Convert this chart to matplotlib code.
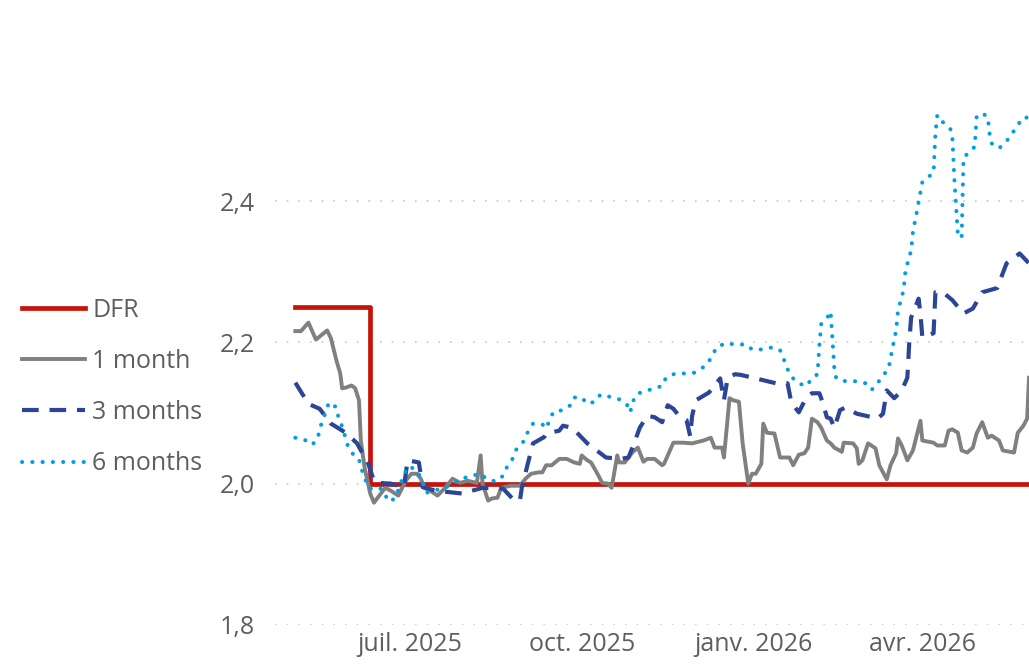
import pandas as pd
import matplotlib.pyplot as plt
import matplotlib.dates as mdates

# --------------------------
# 1. DATA
# --------------------------
dfr_dates = ["2025-05-01", "2025-06-10", "2026-05-28"]
dfr_vals = [2.25, 2.00, 2.00]

m1_dates = [
    "2025-05-01", "2025-05-04", "2025-05-08", "2025-05-12", "2025-05-18", "2025-05-20",
    "2025-05-23", "2025-05-25", "2025-05-26", "2025-05-28", "2025-05-31", "2025-06-02",
    "2025-06-04", "2025-06-05", "2025-06-07", "2025-06-10", "2025-06-12", "2025-06-14",
    "2025-06-18", "2025-06-21", "2025-06-25", "2025-06-29", "2025-07-02", "2025-07-05",
    "2025-07-07", "2025-07-09", "2025-07-12", "2025-07-16", "2025-07-20", "2025-07-24",
    "2025-07-28", "2025-08-01", "2025-08-06", "2025-08-08", "2025-08-09", "2025-08-12",
    "2025-08-14", "2025-08-17", "2025-08-19", "2025-08-24", "2025-08-29", "2025-09-01",
    "2025-09-04", "2025-09-08", "2025-09-10", "2025-09-12", "2025-09-15", "2025-09-19",
    "2025-09-23", "2025-09-27", "2025-09-30", "2025-10-01", "2025-10-04", "2025-10-06",
    "2025-10-09", "2025-10-12", "2025-10-15", "2025-10-17", "2025-10-20", "2025-10-21",
    "2025-10-24", "2025-10-28", "2025-10-31", "2025-11-03", "2025-11-05", "2025-11-09",
    "2025-11-13", "2025-11-14", "2025-11-19", "2025-11-24", "2025-11-29", "2025-12-05",
    "2025-12-09", "2025-12-11", "2025-12-15", "2025-12-16", "2025-12-19", "2025-12-21",
    "2025-12-24", "2025-12-26", "2025-12-29", "2025-12-31", "2026-01-02", "2026-01-05",
    "2026-01-06", "2026-01-08", "2026-01-12", "2026-01-15", "2026-01-20", "2026-01-22",
    "2026-01-25", "2026-01-28", "2026-01-30", "2026-02-01", "2026-02-04", "2026-02-06",
    "2026-02-09", "2026-02-11", "2026-02-13", "2026-02-17", "2026-02-18", "2026-02-23",
    "2026-02-25", "2026-02-26", "2026-02-28", "2026-03-03", "2026-03-07", "2026-03-09",
    "2026-03-13", "2026-03-15", "2026-03-18", "2026-03-19", "2026-03-21", "2026-03-24",
    "2026-03-27", "2026-03-31", "2026-04-01", "2026-04-07", "2026-04-09", "2026-04-13",
    "2026-04-15", "2026-04-17", "2026-04-20", "2026-04-22", "2026-04-25", "2026-04-28",
    "2026-04-30", "2026-05-03", "2026-05-06", "2026-05-08", "2026-05-12", "2026-05-14",
    "2026-05-20", "2026-05-22", "2026-05-25", "2026-05-27", "2026-05-28",
]
m1_vals = [
    2.216, 2.216, 2.228, 2.204, 2.217, 2.206,
    2.174, 2.156, 2.135, 2.136, 2.139, 2.135,
    2.118, 2.061, 2.023, 1.986, 1.973, 1.980,
    1.994, 1.990, 1.983, 2.004, 2.014, 2.014,
    2.007, 1.994, 1.990, 1.983, 1.994, 2.007,
    2.001, 2.004, 2.001, 2.040, 2.000, 1.976,
    1.979, 1.980, 1.994, 1.997, 1.997, 2.007,
    2.014, 2.016, 2.016, 2.026, 2.026, 2.035,
    2.035, 2.030, 2.028, 2.040, 2.033, 2.030,
    2.016, 2.001, 2.000, 1.994, 2.040, 2.030,
    2.030, 2.044, 2.051, 2.031, 2.035, 2.035,
    2.026, 2.028, 2.058, 2.058, 2.057, 2.061,
    2.065, 2.051, 2.051, 2.037, 2.121, 2.118,
    2.116, 2.057, 2.000, 2.014, 2.014, 2.028,
    2.085, 2.072, 2.071, 2.037, 2.037, 2.026,
    2.041, 2.043, 2.051, 2.092, 2.087, 2.079,
    2.061, 2.057, 2.051, 2.045, 2.058, 2.057,
    2.050, 2.028, 2.033, 2.057, 2.050, 2.026,
    2.006, 2.026, 2.043, 2.064, 2.054, 2.033,
    2.047, 2.089, 2.061, 2.058, 2.054, 2.054,
    2.075, 2.077, 2.072, 2.047, 2.044, 2.051,
    2.071, 2.087, 2.065, 2.068, 2.061, 2.047,
    2.044, 2.072, 2.082, 2.092, 2.150,
]

m3_dates = [
    "2025-05-01", "2025-05-08", "2025-05-14", "2025-05-20", "2025-05-28", "2025-06-03",
    "2025-06-09", "2025-06-12", "2025-06-14", "2025-06-21", "2025-06-28", "2025-06-30",
    "2025-07-06", "2025-07-08", "2025-07-15", "2025-07-22", "2025-07-29", "2025-08-09",
    "2025-08-20", "2025-08-26", "2025-08-29", "2025-08-30", "2025-09-02", "2025-09-05",
    "2025-09-11", "2025-09-12", "2025-09-19", "2025-09-21", "2025-09-26", "2025-10-04",
    "2025-10-11", "2025-10-14", "2025-10-22", "2025-10-26", "2025-10-29", "2025-11-01",
    "2025-11-05", "2025-11-09", "2025-11-13", "2025-11-14", "2025-11-16", "2025-11-19",
    "2025-11-22", "2025-11-26", "2025-11-28", "2025-11-29", "2025-12-01", "2025-12-08",
    "2025-12-14", "2025-12-16", "2025-12-18", "2025-12-22", "2025-12-25", "2026-01-02",
    "2026-01-13", "2026-01-19", "2026-01-21", "2026-01-25", "2026-01-29", "2026-02-01",
    "2026-02-05", "2026-02-07", "2026-02-09", "2026-02-11", "2026-02-13", "2026-02-16",
    "2026-02-19", "2026-02-25", "2026-03-02", "2026-03-08", "2026-03-11", "2026-03-13",
    "2026-03-17", "2026-03-21", "2026-03-24", "2026-03-25", "2026-03-26", "2026-03-30",
    "2026-03-31", "2026-04-01", "2026-04-07", "2026-04-08", "2026-04-12", "2026-04-17",
    "2026-04-23", "2026-04-28", "2026-05-03", "2026-05-11", "2026-05-16", "2026-05-23",
    "2026-05-28",
]
m3_vals = [
    2.143, 2.113, 2.106, 2.085, 2.072, 2.057,
    2.028, 2.004, 2.001, 2.000, 1.995, 2.033,
    2.030, 1.995, 1.990, 1.988, 1.986, 1.994,
    1.993, 1.976, 1.976, 1.994, 2.026, 2.057,
    2.066, 2.071, 2.075, 2.082, 2.079, 2.057,
    2.043, 2.037, 2.035, 2.037, 2.057, 2.079,
    2.096, 2.094, 2.087, 2.096, 2.111, 2.106,
    2.096, 2.090, 2.067, 2.096, 2.118, 2.129,
    2.149, 2.118, 2.150, 2.155, 2.154, 2.149,
    2.142, 2.142, 2.115, 2.101, 2.122, 2.128,
    2.128, 2.113, 2.094, 2.092, 2.079, 2.104,
    2.108, 2.099, 2.096, 2.092, 2.099, 2.132,
    2.121, 2.132, 2.150, 2.199, 2.235, 2.262,
    2.241, 2.207, 2.213, 2.271, 2.271, 2.260,
    2.241, 2.248, 2.271, 2.277, 2.312, 2.326,
    2.312,
]

m6_dates = [
    "2025-05-01", "2025-05-06", "2025-05-10", "2025-05-13", "2025-05-14", "2025-05-16",
    "2025-05-19", "2025-05-23", "2025-05-24", "2025-05-26", "2025-05-29", "2025-06-01",
    "2025-06-04", "2025-06-05", "2025-06-07", "2025-06-09", "2025-06-13", "2025-06-16",
    "2025-06-18", "2025-06-21", "2025-06-24", "2025-06-26", "2025-06-28", "2025-06-30",
    "2025-07-04", "2025-07-07", "2025-07-10", "2025-07-14", "2025-07-20", "2025-07-25",
    "2025-07-29", "2025-08-03", "2025-08-08", "2025-08-11", "2025-08-16", "2025-08-20",
    "2025-08-22", "2025-08-25", "2025-08-27", "2025-08-31", "2025-09-02", "2025-09-05",
    "2025-09-10", "2025-09-12", "2025-09-14", "2025-09-16", "2025-09-21", "2025-09-25",
    "2025-09-27", "2025-10-01", "2025-10-04", "2025-10-08", "2025-10-11", "2025-10-16",
    "2025-10-20", "2025-10-25", "2025-10-27", "2025-10-28", "2025-10-31", "2025-11-04",
    "2025-11-08", "2025-11-13", "2025-11-15", "2025-11-20", "2025-11-25", "2025-11-30",
    "2025-12-04", "2025-12-07", "2025-12-10", "2025-12-12", "2025-12-17", "2025-12-22",
    "2025-12-28", "2025-12-31", "2026-01-05", "2026-01-11", "2026-01-15", "2026-01-17",
    "2026-01-19", "2026-01-22", "2026-01-25", "2026-01-29", "2026-02-01", "2026-02-04",
    "2026-02-05", "2026-02-06", "2026-02-09", "2026-02-11", "2026-02-12", "2026-02-13",
    "2026-02-14", "2026-02-19", "2026-02-24", "2026-03-02", "2026-03-05", "2026-03-08",
    "2026-03-11", "2026-03-14", "2026-03-16", "2026-03-18", "2026-03-19", "2026-03-22",
    "2026-03-23", "2026-03-26", "2026-03-27", "2026-03-29", "2026-03-31", "2026-04-01",
    "2026-04-04", "2026-04-07", "2026-04-08", "2026-04-09", "2026-04-12", "2026-04-16",
    "2026-04-17", "2026-04-18", "2026-04-20", "2026-04-22", "2026-04-23", "2026-04-26",
    "2026-04-29", "2026-04-30", "2026-05-03", "2026-05-06", "2026-05-07", "2026-05-08",
    "2026-05-12", "2026-05-16", "2026-05-19", "2026-05-22", "2026-05-25", "2026-05-28",
]
m6_vals = [
    2.065, 2.062, 2.055, 2.064, 2.078, 2.092,
    2.115, 2.108, 2.094, 2.081, 2.054, 2.041,
    2.035, 2.023, 2.009, 1.994, 1.991, 1.993,
    1.983, 1.974, 1.983, 1.999, 2.011, 2.024,
    2.021, 2.009, 1.987, 1.990, 1.994, 2.001,
    2.007, 2.011, 2.014, 2.007, 2.003, 2.011,
    2.023, 2.035, 2.048, 2.060, 2.072, 2.085,
    2.084, 2.078, 2.091, 2.102, 2.104, 2.111,
    2.122, 2.122, 2.113, 2.116, 2.126, 2.123,
    2.121, 2.113, 2.101, 2.115, 2.128, 2.130,
    2.135, 2.138, 2.150, 2.156, 2.156, 2.157,
    2.163, 2.169, 2.182, 2.193, 2.199, 2.197,
    2.197, 2.190, 2.190, 2.193, 2.189, 2.176,
    2.162, 2.149, 2.142, 2.138, 2.149, 2.155,
    2.196, 2.226, 2.234, 2.244, 2.203, 2.163,
    2.149, 2.145, 2.145, 2.142, 2.133, 2.142,
    2.153, 2.163, 2.191, 2.217, 2.245, 2.274,
    2.302, 2.330, 2.357, 2.384, 2.413, 2.427,
    2.434, 2.440, 2.496, 2.522, 2.512, 2.502,
    2.494, 2.437, 2.352, 2.348, 2.461, 2.470,
    2.477, 2.519, 2.525, 2.519, 2.494, 2.482,
    2.475, 2.485, 2.496, 2.508, 2.519, 2.518,
]

xtick_dates = ["2025-07-01", "2025-10-01", "2026-01-01", "2026-04-01"]
xtick_labels = ["juil. 2025", "oct. 2025", "janv. 2026", "avr. 2026"]
yticks = [1.8, 2.0, 2.2, 2.4]
ytick_labels = ["1,8", "2,0", "2,2", "2,4"]

# --------------------------
# 2. PLOT
# --------------------------
plt.rcParams["font.family"] = ["Open Sans", "DejaVu Sans"]
txt = "#605e5c"

fig = plt.figure(figsize=(10.29, 6.64), dpi=100)
ax = fig.add_axes([0.267, 0.059, 0.733, 0.941])

ax.plot(pd.to_datetime(dfr_dates), dfr_vals, drawstyle="steps-post",
        color="#c4140c", lw=3.4, label="DFR", zorder=2)
ax.plot(pd.to_datetime(m1_dates), m1_vals, color="#808080", lw=2.8,
        label="1 month", zorder=3, solid_joinstyle="round")
ax.plot(pd.to_datetime(m3_dates), m3_vals, color="#2c4596", lw=3.0,
        linestyle=(0, (4, 2.6)), label="3 months", zorder=4)
ax.plot(pd.to_datetime(m6_dates), m6_vals, color="#009fe3", lw=2.9,
        linestyle=(0, (0.05, 2.5)), dash_capstyle="round", label="6 months", zorder=5)

ax.set_xlim(pd.Timestamp("2025-04-20"), pd.Timestamp("2026-05-28"))
ax.set_ylim(1.8, 2.685)
ax.set_xticks(pd.to_datetime(xtick_dates))
ax.set_xticklabels(xtick_labels)
ax.set_yticks(yticks)
ax.set_yticklabels(ytick_labels)
ax.tick_params(length=0, labelsize=18, labelcolor=txt)
ax.tick_params(axis="y", pad=14)
ax.tick_params(axis="x", pad=5)
ax.grid(axis="y", color="#c8c8c8", linestyle=(0, (1, 6)), lw=1.2)
ax.set_axisbelow(True)
for s in ax.spines.values():
    s.set_visible(False)

fig.legend(loc="center left", bbox_to_anchor=(0.0214, 0.417), frameon=False,
           borderpad=0, borderaxespad=0, fontsize=18, labelcolor=txt,
           handlelength=2.5, handletextpad=0.3, labelspacing=1.05)

fig.savefig("out.png", dpi=100)
